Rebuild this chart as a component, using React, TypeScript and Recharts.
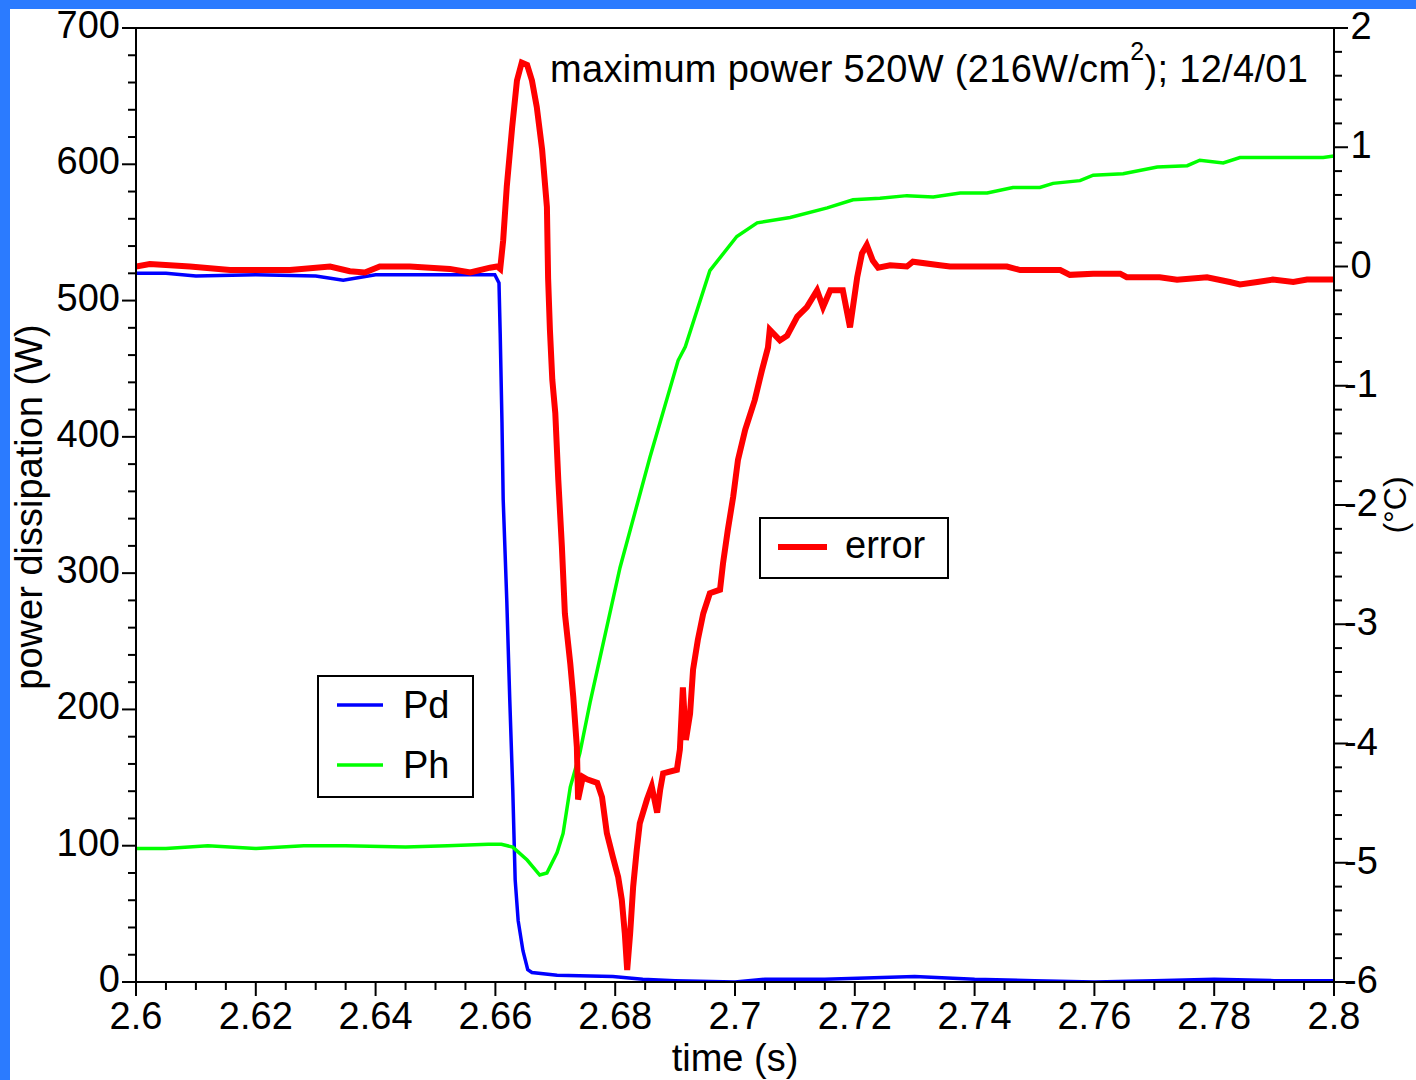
import React from 'react';
import { LineChart, Line, XAxis, YAxis, ReferenceLine } from 'recharts';

const FONT = '"Liberation Sans", Arial, Helvetica, sans-serif';

// tick labels
const X_MAJOR = [2.6, 2.62, 2.64, 2.66, 2.68, 2.7, 2.72, 2.74, 2.76, 2.78, 2.8];
const LEFT_MAJOR = [0, 100, 200, 300, 400, 500, 600, 700];
const RIGHT_MAJOR = [-6, -5, -4, -3, -2, -1, 0, 1, 2];

// minor ticks sit between the labelled ones
const X_TICKS = Array.from({ length: 41 }, (_, i) => +(2.6 + i * 0.005).toFixed(3));
const LEFT_TICKS = Array.from({ length: 36 }, (_, i) => i * 20);
const RIGHT_TICKS = Array.from({ length: 41 }, (_, i) => +(-6 + i * 0.2).toFixed(1));

// Pd (W)
const pdTime = [2.6, 2.605, 2.61, 2.62, 2.63, 2.6346, 2.64, 2.65, 2.6599, 2.6606, 2.6608, 2.6611, 2.6613, 2.6619, 2.6624, 2.6629, 2.6633, 2.6638, 2.6646, 2.6654, 2.6661, 2.6703, 2.6796, 2.6846, 2.69, 2.7, 2.705, 2.715, 2.73, 2.74, 2.75, 2.76, 2.77, 2.78, 2.79, 2.8];
const pdPower = [520, 520, 518, 519, 518, 515, 519, 519, 519, 513, 476, 410, 354, 280, 207, 141, 75, 45, 23, 9, 7, 5, 4, 2, 1, 0, 2, 2, 4, 2, 1, 0, 1, 2, 1, 1];

// Ph (W)
const phTime = [2.6, 2.605, 2.612, 2.62, 2.628, 2.635, 2.645, 2.652, 2.6588, 2.661, 2.6629, 2.6653, 2.6674, 2.6686, 2.6703, 2.6713, 2.6725, 2.6741, 2.6758, 2.6808, 2.6858, 2.6905, 2.6917, 2.6958, 2.7003, 2.7037, 2.7092, 2.7154, 2.7197, 2.7242, 2.7287, 2.7331, 2.7376, 2.7421, 2.7464, 2.7509, 2.7531, 2.7576, 2.7598, 2.7648, 2.7705, 2.7755, 2.7776, 2.7815, 2.7843, 2.7927, 2.7982, 2.8];
const phPower = [98, 98, 100, 98, 100, 100, 99, 100, 101, 101, 99, 89.5, 78.5, 80, 95, 109, 143, 168, 205, 304, 385, 456, 466, 522, 547, 557, 561, 568, 574, 575, 577, 576, 579, 579, 583, 583, 586, 588, 592, 593, 598, 599, 603, 601, 605, 605, 605, 606];

// error (°C)
const errTime = [2.6, 2.6023, 2.609, 2.6157, 2.6257, 2.6324, 2.6357, 2.6382, 2.6407, 2.6457, 2.6524, 2.6558, 2.6591, 2.6603, 2.6608, 2.6613, 2.6619, 2.6628, 2.6636, 2.6644, 2.6653, 2.6661, 2.6669, 2.6678, 2.6686, 2.6688, 2.6691, 2.6695, 2.67, 2.6705, 2.6711, 2.6716, 2.6725, 2.673, 2.6736, 2.6738, 2.6746, 2.6753, 2.677, 2.6778, 2.6786, 2.6796, 2.6805, 2.6811, 2.6816, 2.682, 2.6825, 2.683, 2.6836, 2.6841, 2.6853, 2.6861, 2.687, 2.6875, 2.688, 2.6903, 2.6908, 2.6913, 2.6918, 2.6925, 2.693, 2.6938, 2.6947, 2.6958, 2.6975, 2.698, 2.6988, 2.6997, 2.7005, 2.7017, 2.7033, 2.7045, 2.7055, 2.7058, 2.7075, 2.7087, 2.7104, 2.712, 2.7137, 2.7147, 2.7159, 2.718, 2.7192, 2.7204, 2.7212, 2.722, 2.723, 2.7239, 2.7259, 2.7287, 2.7297, 2.7342, 2.7359, 2.7454, 2.7476, 2.7543, 2.7559, 2.7598, 2.7643, 2.7654, 2.7709, 2.7738, 2.7788, 2.7826, 2.7843, 2.7872, 2.7898, 2.7932, 2.7955, 2.8];
const errValue = [0.0, 0.02, 0.0, -0.03, -0.03, 0.0, -0.04, -0.05, 0.0, 0.0, -0.02, -0.05, -0.01, 0.0, -0.02, 0.22, 0.67, 1.17, 1.56, 1.71, 1.69, 1.56, 1.34, 0.98, 0.5, -0.1, -0.53, -0.95, -1.23, -1.79, -2.35, -2.91, -3.33, -3.61, -4.03, -4.47, -4.28, -4.3, -4.33, -4.45, -4.75, -4.95, -5.12, -5.31, -5.59, -5.9, -5.59, -5.2, -4.89, -4.67, -4.47, -4.36, -4.58, -4.39, -4.25, -4.22, -4.05, -3.53, -3.97, -3.75, -3.38, -3.13, -2.91, -2.74, -2.71, -2.49, -2.21, -1.93, -1.62, -1.37, -1.12, -0.87, -0.68, -0.53, -0.62, -0.58, -0.42, -0.34, -0.2, -0.34, -0.2, -0.2, -0.51, -0.09, 0.11, 0.18, 0.05, -0.01, 0.01, 0.0, 0.04, 0.01, 0.0, 0.0, -0.03, -0.03, -0.07, -0.06, -0.06, -0.09, -0.09, -0.11, -0.09, -0.13, -0.15, -0.13, -0.11, -0.13, -0.11, -0.11];

const pdData = pdTime.map((t, i) => ({ t, v: pdPower[i] }));
const phData = phTime.map((t, i) => ({ t, v: phPower[i] }));
const errData = errTime.map((t, i) => ({ t, v: errValue[i] }));

const isIn = (list: number[], v: number) => list.some((m) => Math.abs(m - v) < 1e-6);

function BottomTick(props: any) {
  const { x, y, payload } = props;
  const major = isIn(X_MAJOR, payload.value);
  return (
    <g>
      <line x1={x} y1={y} x2={x} y2={y + (major ? 14 : 8)} stroke="#000" strokeWidth={2} />
      {major && (
        <text x={x} y={y + 47} textAnchor="middle" fontSize={38} fontFamily={FONT} fill="#000">
          {String(payload.value)}
        </text>
      )}
    </g>
  );
}

function LeftTick(props: any) {
  const { x, y, payload } = props;
  const major = isIn(LEFT_MAJOR, payload.value);
  return (
    <g>
      <line x1={x - (major ? 14 : 8)} y1={y} x2={x} y2={y} stroke="#000" strokeWidth={2} />
      {major && (
        <text x={x - 16} y={y + 10} textAnchor="end" fontSize={38} fontFamily={FONT} fill="#000">
          {String(payload.value)}
        </text>
      )}
    </g>
  );
}

function RightTick(props: any) {
  const { x, y, payload } = props;
  const major = isIn(RIGHT_MAJOR, payload.value);
  return (
    <g>
      <line x1={x} y1={y} x2={x + (major ? 14 : 8)} y2={y} stroke="#000" strokeWidth={2} />
      {major && (
        <text x={x + 27} y={y + 11} textAnchor="middle" fontSize={38} fontFamily={FONT} fill="#000">
          {String(payload.value)}
        </text>
      )}
    </g>
  );
}

export default function App() {
  return (
    <div style={{ position: 'absolute', left: 0, top: 0, width: 1416, height: 1080, background: '#2b7bff', overflow: 'hidden' }}>
      <div style={{ position: 'absolute', left: 10, top: 9, right: 0, bottom: 0, background: '#fff' }} />
      <LineChart
        width={1416}
        height={1080}
        margin={{ top: 28, right: 0, bottom: 0, left: 0 }}
        style={{ position: 'absolute', left: 0, top: 0 }}
      >
        <XAxis
          dataKey="t"
          type="number"
          domain={[2.6, 2.8]}
          allowDataOverflow
          ticks={X_TICKS}
          interval={0}
          height={98}
          tickSize={0}
          tickMargin={0}
          tickLine={false}
          tick={<BottomTick />}
          axisLine={{ stroke: '#000', strokeWidth: 2 }}
        />
        <YAxis
          yAxisId="left"
          type="number"
          domain={[0, 700]}
          allowDataOverflow
          ticks={LEFT_TICKS}
          interval={0}
          width={136}
          tickSize={0}
          tickMargin={0}
          tickLine={false}
          tick={<LeftTick />}
          axisLine={{ stroke: '#000', strokeWidth: 2 }}
        />
        <YAxis
          yAxisId="right"
          orientation="right"
          type="number"
          domain={[-6, 2]}
          allowDataOverflow
          ticks={RIGHT_TICKS}
          interval={0}
          width={82}
          tickSize={0}
          tickMargin={0}
          tickLine={false}
          tick={<RightTick />}
          axisLine={{ stroke: '#000', strokeWidth: 2 }}
        />
        <ReferenceLine yAxisId="left" y={700} stroke="#000" strokeWidth={2} />
        <Line yAxisId="left" data={pdData} dataKey="v" type="linear" stroke="#0000ff" strokeWidth={3.5} dot={false} isAnimationActive={false} />
        <Line yAxisId="left" data={phData} dataKey="v" type="linear" stroke="#00ff00" strokeWidth={3.5} dot={false} isAnimationActive={false} />
        <Line yAxisId="right" data={errData} dataKey="v" type="linear" stroke="#ff0000" strokeWidth={6} dot={false} isAnimationActive={false} />
      </LineChart>

      {/* labels, annotation and the two legend boxes */}
      <svg width={1416} height={1080} style={{ position: 'absolute', left: 0, top: 0, pointerEvents: 'none' }} fontFamily={FONT} fill="#000">
        <text transform="translate(42,507) rotate(-90)" textAnchor="middle" fontSize={38}>power dissipation (W)</text>
        <text x={735} y={1071} textAnchor="middle" fontSize={38}>time (s)</text>
        <text transform="translate(1406,505) rotate(-90)" textAnchor="middle" fontSize={32}>(°C)</text>
        <text x={550} y={82} fontSize={38} letterSpacing={0.3}>
          maximum power 520W (216W/cm<tspan dy={-22} fontSize={25}>2</tspan><tspan dy={22}>); 12/4/01</tspan>
        </text>

        <rect x={318} y={676} width={155} height={121} fill="#fff" stroke="#000" strokeWidth={2} />
        <line x1={337} y1={705} x2={383} y2={705} stroke="#0000ff" strokeWidth={3.5} />
        <text x={403} y={718} fontSize={38}>Pd</text>
        <line x1={337} y1={765} x2={383} y2={765} stroke="#00ff00" strokeWidth={3.5} />
        <text x={403} y={778} fontSize={38}>Ph</text>

        <rect x={760} y={518} width={188} height={60} fill="#fff" stroke="#000" strokeWidth={2} />
        <line x1={778} y1={547} x2={827} y2={547} stroke="#ff0000" strokeWidth={6} />
        <text x={845} y={558} fontSize={38}>error</text>
      </svg>
    </div>
  );
}
